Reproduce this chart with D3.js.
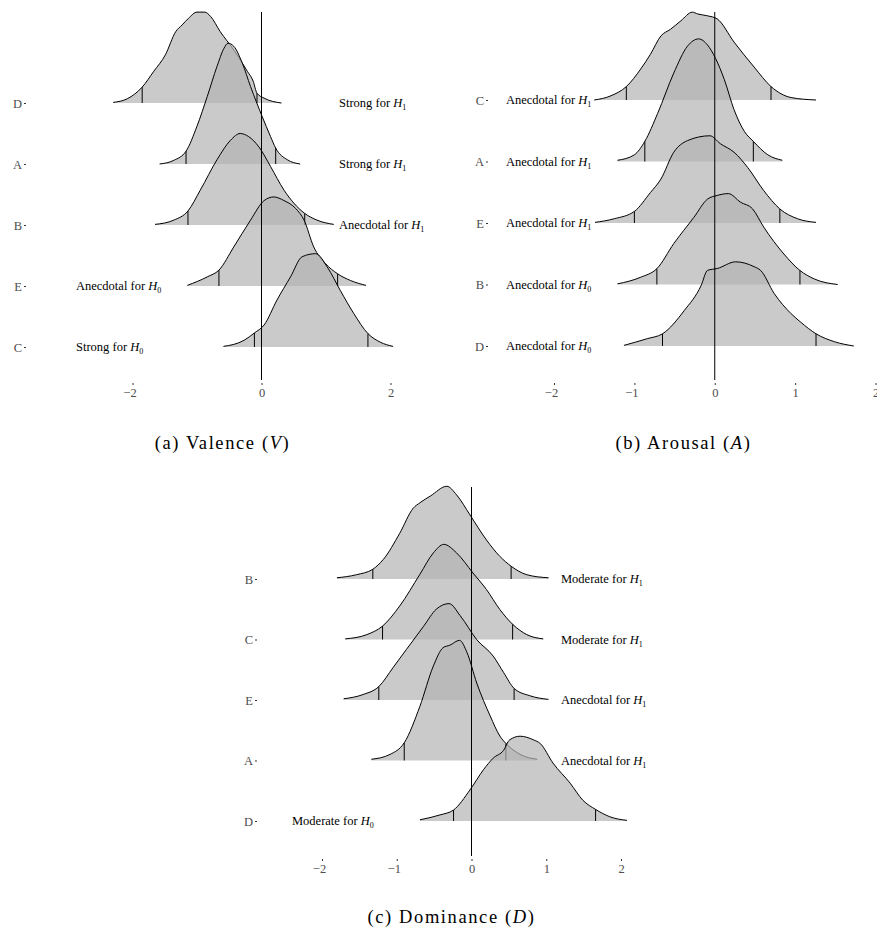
<!DOCTYPE html>
<html>
<head>
<meta charset="utf-8">
<script src="https://cdn.jsdelivr.net/npm/d3@7"></script>
<style>
  html, body { margin: 0; padding: 0; background: #fff; }
  svg { display: block; }
</style>
</head>
<body>
<div id="chart"></div>
<script>
// ---------------- DATA ----------------
// Panel (a) Valence
const valenceRows = ["D", "A", "B", "E", "C"];
const valenceEvidence = ["Strong", "Strong", "Anecdotal", "Anecdotal", "Strong"];
const valenceHyp = [1, 1, 1, 0, 0];
const valenceTicks = [-2, 0, 2];
const valenceLo = [-1.85, -1.17, -1.14, -0.66, -0.11];
const valenceHi = [-0.07, 0.22, 0.67, 1.18, 1.65];
const valenceD = [[-2.30,0.01],[-2.08,0.07],[-1.85,0.26],[-1.67,0.52],[-1.49,0.79],[-1.33,1.17],[-1.23,1.28],[-1.13,1.39],[-1.00,1.49],[-0.88,1.49],[-0.79,1.42],[-0.64,1.17],[-0.43,0.87],[-0.22,0.52],[-0.13,0.36],[-0.07,0.16],[0.04,0.08],[0.31,0.0]];
const valenceA = [[-1.58,0.0],[-1.36,0.06],[-1.17,0.21],[-1.00,0.62],[-0.84,1.11],[-0.69,1.60],[-0.58,1.90],[-0.52,1.98],[-0.43,1.93],[-0.30,1.66],[-0.17,1.27],[0.01,0.78],[0.14,0.45],[0.22,0.26],[0.40,0.07],[0.60,0.0]];
const valenceB = [[-1.65,0.01],[-1.36,0.08],[-1.14,0.23],[-0.95,0.57],[-0.69,1.07],[-0.48,1.39],[-0.33,1.50],[-0.20,1.45],[-0.04,1.28],[0.14,0.96],[0.35,0.57],[0.50,0.36],[0.67,0.19],[0.86,0.08],[1.12,0.01]];
const valenceE = [[-1.15,0.01],[-0.84,0.15],[-0.66,0.26],[-0.43,0.64],[-0.17,1.08],[0.04,1.40],[0.19,1.46],[0.35,1.40],[0.53,1.27],[0.66,1.08],[0.81,0.64],[0.99,0.37],[1.18,0.20],[1.38,0.09],[1.62,0.01]];
const valenceC = [[-0.59,0.01],[-0.27,0.11],[-0.11,0.23],[0.04,0.36],[0.24,0.77],[0.45,1.15],[0.63,1.48],[0.84,1.53],[1.02,1.31],[1.22,0.93],[1.43,0.55],[1.65,0.22],[1.84,0.08],[2.04,0.01]];

// Panel (b) Arousal
const arousalRows = ["C", "A", "E", "B", "D"];
const arousalEvidence = ["Anecdotal", "Anecdotal", "Anecdotal", "Anecdotal", "Anecdotal"];
const arousalHyp = [1, 1, 1, 0, 0];
const arousalTicks = [-2, -1, 0, 1, 2];
const arousalLo = [-1.10, -0.87, -1.00, -0.72, -0.65];
const arousalHi = [0.70, 0.48, 0.81, 1.06, 1.26];
const arousalC = [[-1.50,0.0],[-1.29,0.07],[-1.10,0.22],[-0.92,0.51],[-0.80,0.75],[-0.67,1.05],[-0.55,1.16],[-0.42,1.30],[-0.28,1.44],[-0.21,1.41],[-0.09,1.38],[0.03,1.33],[0.24,0.95],[0.49,0.54],[0.70,0.22],[0.95,0.04],[1.26,0.0]];
const arousalA = [[-1.21,0.02],[-1.00,0.11],[-0.87,0.33],[-0.71,0.79],[-0.51,1.45],[-0.34,1.89],[-0.20,2.01],[-0.09,1.91],[0.01,1.69],[0.12,1.34],[0.24,0.85],[0.37,0.49],[0.48,0.33],[0.66,0.11],[0.84,0.02]];
const arousalE = [[-1.49,0.01],[-1.25,0.07],[-1.00,0.19],[-0.80,0.50],[-0.67,0.72],[-0.51,1.16],[-0.34,1.35],[-0.06,1.43],[0.07,1.30],[0.24,1.16],[0.41,0.91],[0.61,0.53],[0.81,0.23],[1.03,0.07],[1.26,0.01]];
const arousalB = [[-1.21,0.01],[-0.92,0.12],[-0.72,0.26],[-0.51,0.67],[-0.26,1.10],[-0.09,1.40],[0.03,1.46],[0.17,1.49],[0.32,1.35],[0.47,1.24],[0.61,0.94],[0.86,0.50],[1.06,0.23],[1.24,0.09],[1.53,0.0]];
const arousalD = [[-1.13,0.01],[-0.84,0.12],[-0.65,0.20],[-0.38,0.58],[-0.17,0.99],[-0.09,1.24],[0.03,1.27],[0.26,1.38],[0.49,1.30],[0.57,1.24],[0.74,0.86],[0.95,0.53],[1.07,0.39],[1.26,0.20],[1.49,0.07],[1.73,0.0]];

// Panel (c) Dominance
const dominanceRows = ["B", "C", "E", "A", "D"];
const dominanceEvidence = ["Moderate", "Moderate", "Anecdotal", "Anecdotal", "Moderate"];
const dominanceHyp = [1, 1, 1, 1, 0];
const dominanceTicks = [-2, -1, 0, 1, 2];
const dominanceLo = [-1.32, -1.19, -1.24, -0.90, -0.24];
const dominanceHi = [0.53, 0.55, 0.57, 0.46, 1.66];
const dominanceB = [[-1.80,0.02],[-1.54,0.07],[-1.32,0.16],[-1.18,0.32],[-0.96,0.75],[-0.78,1.16],[-0.69,1.25],[-0.55,1.36],[-0.33,1.52],[-0.20,1.38],[-0.02,1.05],[0.20,0.64],[0.38,0.37],[0.53,0.21],[0.74,0.07],[1.03,0.02]];
const dominanceC = [[-1.69,0.01],[-1.40,0.08],[-1.19,0.22],[-0.96,0.55],[-0.69,1.07],[-0.51,1.42],[-0.37,1.56],[-0.20,1.42],[0.02,1.09],[0.20,0.82],[0.38,0.49],[0.55,0.25],[0.74,0.08],[0.96,0.01]];
const dominanceE = [[-1.71,0.02],[-1.45,0.09],[-1.24,0.22],[-1.05,0.53],[-0.87,0.83],[-0.64,1.21],[-0.47,1.49],[-0.30,1.58],[-0.15,1.38],[0.07,0.99],[0.29,0.72],[0.43,0.45],[0.57,0.19],[0.78,0.07],[1.03,0.01]];
const dominanceA = [[-1.34,0.02],[-1.09,0.10],[-0.90,0.29],[-0.69,0.89],[-0.51,1.55],[-0.38,1.85],[-0.29,1.89],[-0.16,1.97],[-0.06,1.77],[0.07,1.27],[0.25,0.73],[0.38,0.40],[0.46,0.28],[0.65,0.10],[0.88,0.02]];
const dominanceD = [[-0.69,0.02],[-0.42,0.10],[-0.24,0.18],[-0.02,0.51],[0.16,0.84],[0.29,1.03],[0.43,1.16],[0.51,1.33],[0.65,1.39],[0.83,1.33],[0.92,1.27],[1.09,0.95],[1.32,0.62],[1.49,0.34],[1.66,0.19],[1.85,0.07],[2.08,0.01]];

// ---------------- LAYOUT ----------------
const W = 877, H = 931;
const svg = d3.select("#chart").append("svg").attr("width", W).attr("height", H);

const panels = [
  { rows: valenceRows, curves: [valenceD, valenceA, valenceB, valenceE, valenceC],
    lo: valenceLo, hi: valenceHi, evidence: valenceEvidence, hyp: valenceHyp, ticks: valenceTicks,
    xr: [132.5, 390.5], yr: [103, 347], zero: [12, 380], axisY: 383, yAxisX: 26,
    textX: {1: 339, 0: 76}, cap: ["(a) Valence (", "V", ")"], capX: 222.5, capY: 449 },
  { rows: arousalRows, curves: [arousalC, arousalA, arousalE, arousalB, arousalD],
    lo: arousalLo, hi: arousalHi, evidence: arousalEvidence, hyp: arousalHyp, ticks: arousalTicks,
    xr: [554, 875.5], yr: [100, 346], zero: [12, 380], axisY: 383, yAxisX: 488,
    textX: {1: 506, 0: 506}, cap: ["(b) Arousal (", "A", ")"], capX: 683.5, capY: 449 },
  { rows: dominanceRows, curves: [dominanceB, dominanceC, dominanceE, dominanceA, dominanceD],
    lo: dominanceLo, hi: dominanceHi, evidence: dominanceEvidence, hyp: dominanceHyp, ticks: dominanceTicks,
    xr: [322, 621], yr: [579, 821], zero: [487, 856], axisY: 859, yAxisX: 257,
    textX: {1: 561, 0: 292}, cap: ["(c) Dominance (", "D", ")"], capX: 451.5, capY: 923 }
];

const ROW_PX = 61;

function interp(pts, q) {
  for (let i = 0; i < pts.length - 1; i++) {
    const a = pts[i], b = pts[i + 1];
    if (q >= a[0] && q <= b[0]) {
      const t = (q - a[0]) / (b[0] - a[0] || 1);
      return a[1] + t * (b[1] - a[1]);
    }
  }
  return 0;
}

panels.forEach(p => {
  const g = svg.append("g");
  const x = d3.scaleLinear().domain([-2, 2]).range(p.xr);
  const y = d3.scalePoint().domain(p.rows).range(p.yr);
  const h = d3.scaleLinear().domain([0, 1]).range([0, ROW_PX]);

  // annotation texts (under the ridges)
  p.rows.forEach((r, i) => {
    const t = g.append("text")
      .attr("x", p.textX[p.hyp[i]])
      .attr("y", y(r) + 4)
      .attr("font-family", "'Liberation Serif', 'Times New Roman', serif")
      .attr("font-size", 12.5)
      .attr("fill", "#000");
    t.append("tspan").text(p.evidence[i] + " for ");
    t.append("tspan").attr("font-style", "italic").text("H");
    t.append("tspan").attr("font-size", 8).attr("dy", 3).text(String(p.hyp[i]));
  });

  // ridges: top row first, lower rows drawn over
  p.rows.forEach((r, i) => {
    const pts = p.curves[i];
    const base = y(r);
    const area = d3.area()
      .x(d => x(d[0]))
      .y0(base)
      .y1(d => base - h(d[1]))
      .curve(d3.curveMonotoneX);
    const line = d3.line()
      .x(d => x(d[0]))
      .y(d => base - h(d[1]))
      .curve(d3.curveMonotoneX);
    const rg = g.append("g");
    rg.append("path").datum(pts).attr("d", area)
      .attr("fill", "#b3b3b3").attr("fill-opacity", 0.7).attr("stroke", "none");
    [p.lo[i], p.hi[i]].forEach(q => {
      rg.append("line")
        .attr("x1", x(q)).attr("x2", x(q))
        .attr("y1", base).attr("y2", base - h(interp(pts, q)))
        .attr("stroke", "#000").attr("stroke-width", 1);
    });
    rg.append("path").datum(pts).attr("d", line)
      .attr("fill", "none").attr("stroke", "#000").attr("stroke-width", 1);
  });

  // zero reference line
  g.append("line")
    .attr("x1", x(0)).attr("x2", x(0))
    .attr("y1", p.zero[0]).attr("y2", p.zero[1])
    .attr("stroke", "#000").attr("stroke-width", 1);

  // x axis
  const xa = g.append("g").attr("transform", `translate(0,${p.axisY})`)
    .call(d3.axisBottom(x).tickValues(p.ticks).tickSize(2).tickPadding(3).tickFormat(d3.format("d")));
  xa.select(".domain").remove();
  xa.selectAll(".tick line").attr("stroke", "#333");
  xa.selectAll(".tick text")
    .attr("font-family", "'Liberation Serif', 'Times New Roman', serif")
    .attr("font-size", 12.5).attr("fill", "#4d4d4d")
    .attr("dx", d => d < 0 ? -3 : 0);

  // y axis
  const ya = g.append("g").attr("transform", `translate(${p.yAxisX},0)`)
    .call(d3.axisLeft(y).tickSize(2).tickPadding(2));
  ya.select(".domain").remove();
  ya.selectAll(".tick line").attr("stroke", "#333");
  ya.selectAll(".tick text")
    .attr("font-family", "'Liberation Serif', 'Times New Roman', serif")
    .attr("font-size", 12.5).attr("fill", "#4d4d4d");

  // caption
  const c = svg.append("text")
    .attr("x", p.capX).attr("y", p.capY)
    .attr("text-anchor", "middle")
    .attr("font-family", "'Liberation Serif', 'Times New Roman', serif")
    .attr("font-size", 18.5)
    .attr("letter-spacing", 1.6)
    .attr("fill", "#000");
  c.append("tspan").text(p.cap[0]);
  c.append("tspan").attr("font-style", "italic").text(p.cap[1]);
  c.append("tspan").text(p.cap[2]);
});
</script>
</body>
</html>
